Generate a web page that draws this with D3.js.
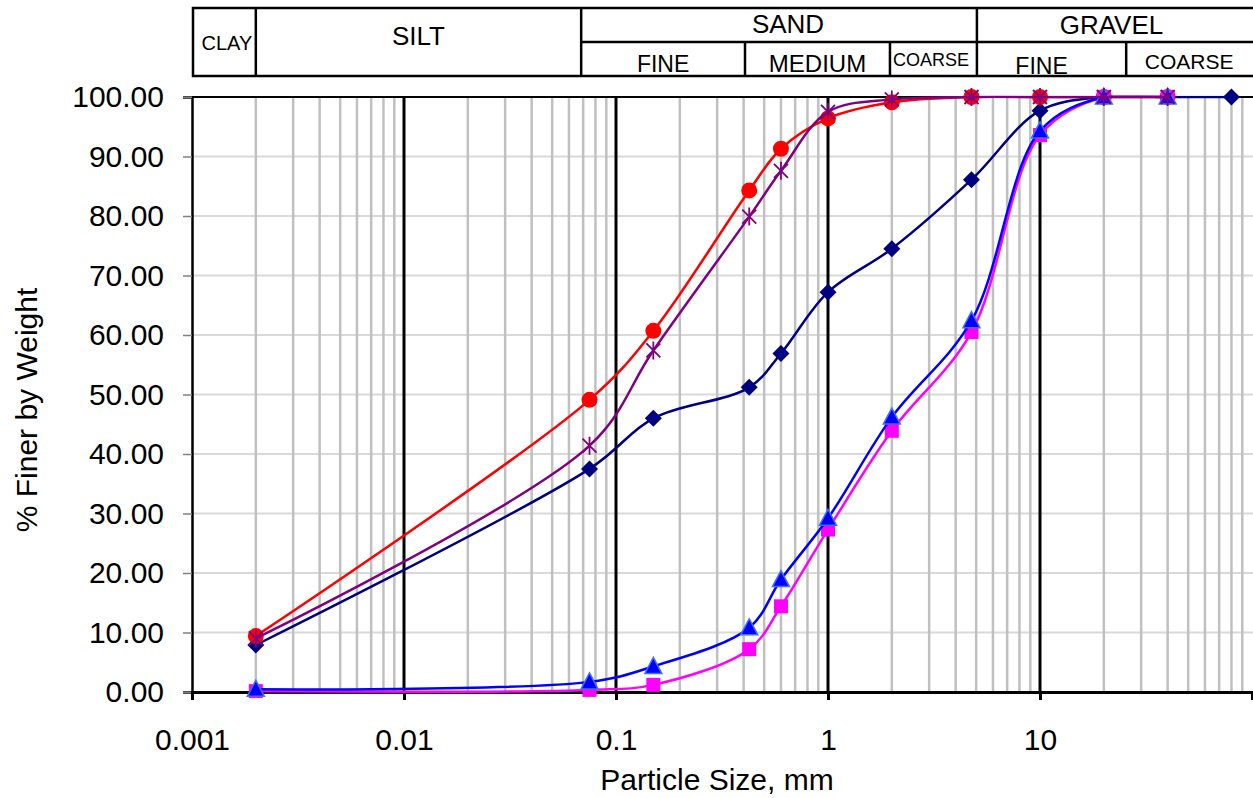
<!DOCTYPE html>
<html>
<head>
<meta charset="utf-8">
<script src="https://cdn.jsdelivr.net/npm/d3@7"></script>
<style>
  html, body { margin: 0; padding: 0; background: #fff; }
  svg { display: block; font-family: "Liberation Sans", Arial, sans-serif; }
</style>
</head>
<body>
<svg id="chart" width="1253" height="798"></svg>
<script>
// ---------------- data ----------------
const sieveSizes = [0.002, 0.075, 0.15, 0.425, 0.6, 1.0, 2.0, 4.75, 10, 20, 40, 80];
const sampleNavy    = [7.9, 37.5, 46.0, 51.2, 56.9, 67.2, 74.5, 86.1, 97.7, 100, 100, 100];
const sampleRed     = [9.4, 49.1, 60.7, 84.3, 91.3, 96.4, 99.1, 100, 100, 100, 100];
const samplePurple  = [9.0, 41.4, 57.4, 79.9, 87.6, 97.5, 99.6, 100, 100, 100, 100];
const sampleBlue    = [0.45, 1.7, 4.3, 10.8, 18.9, 29.2, 46.2, 62.4, 94.3, 100, 100];
const sampleMagenta = [0.15, 0.35, 1.2, 7.2, 14.4, 27.3, 43.9, 60.5, 93.6, 100, 100];

const xTickValues = [0.001, 0.01, 0.1, 1, 10];
const xTickLabels = ["0.001", "0.01", "0.1", "1", "10"];
const yTickValues = [0, 10, 20, 30, 40, 50, 60, 70, 80, 90, 100];

// soil classification header: boundaries in mm
const mainClasses = [
  { name: "CLAY",   from: 0.001,  to: 0.002 },
  { name: "SILT",   from: 0.002,  to: 0.0685 },
  { name: "SAND",   from: 0.0685, to: 5.04 },
  { name: "GRAVEL", from: 5.04,   to: 100 }
];
const subClasses = [
  { name: "FINE",   from: 0.0685, to: 0.406 },
  { name: "MEDIUM", from: 0.406,  to: 1.96 },
  { name: "COARSE", from: 1.96,   to: 5.04 },
  { name: "FINE",   from: 5.04,   to: 25.5 },
  { name: "COARSE", from: 25.5,   to: 100 }
];

// ---------------- layout ----------------
const svg = d3.select("#chart");
const pLeft = 192, pRight = 1252, pTop = 97, pBottom = 692;
const x = d3.scaleLog().domain([0.001, 100]).range([pLeft, pRight]);
const y = d3.scaleLinear().domain([0, 100]).range([pBottom, pTop]);

svg.append("defs").append("clipPath").attr("id", "plotClip")
  .append("rect").attr("x", pLeft).attr("y", pTop - 1.3).attr("width", 1253 - pLeft).attr("height", pBottom - pTop + 10);

// horizontal gridlines
svg.append("g").selectAll("line")
  .data(yTickValues.filter(v => v > 0 && v < 100))
  .join("line")
  .attr("x1", pLeft).attr("x2", 1253)
  .attr("y1", d => y(d)).attr("y2", d => y(d))
  .attr("stroke", "#d9d9d9").attr("stroke-width", 2);

// minor vertical gridlines
const minor = [];
[0.001, 0.01, 0.1, 1, 10].forEach(d => { for (let k = 2; k <= 9; k++) minor.push(k * d); });
svg.append("g").selectAll("line")
  .data(minor)
  .join("line")
  .attr("x1", d => x(d)).attr("x2", d => x(d))
  .attr("y1", pTop).attr("y2", pBottom)
  .attr("stroke", "#c0c0c0").attr("stroke-width", 2.5);

// major vertical gridlines
svg.append("g").selectAll("line")
  .data([0.01, 0.1, 1, 10])
  .join("line")
  .attr("x1", d => x(d)).attr("x2", d => x(d))
  .attr("y1", pTop).attr("y2", pBottom)
  .attr("stroke", "#000").attr("stroke-width", 3);

// top border
svg.append("line").attr("x1", pLeft).attr("x2", 1253).attr("y1", pTop).attr("y2", pTop)
  .attr("stroke", "#000").attr("stroke-width", 2);

// y axis
const yAxis = svg.append("g").attr("transform", `translate(${pLeft},0)`)
  .call(d3.axisLeft(y).tickValues(yTickValues).tickFormat(d3.format(".2f")).tickSize(9).tickPadding(19));
yAxis.select(".domain").attr("stroke", "#000").attr("stroke-width", 2.5);
yAxis.selectAll(".tick line").attr("stroke", "#808080").attr("stroke-width", 1.5);
yAxis.selectAll(".tick text").attr("font-size", 30).attr("fill", "#000")
  .attr("font-family", "'Liberation Sans', Arial, sans-serif");

// x axis
const xAxis = svg.append("g").attr("transform", `translate(0,${pBottom})`)
  .call(d3.axisBottom(x).tickValues(xTickValues).tickFormat((d, i) => xTickLabels[i]).tickSize(8).tickPadding(29));
xAxis.select(".domain").attr("stroke", "#000").attr("stroke-width", 3);
xAxis.selectAll(".tick line").attr("stroke", "#000").attr("stroke-width", 3);
xAxis.selectAll(".tick").filter(d => d === 0.001).select("line").remove();
xAxis.selectAll(".tick text").attr("font-size", 30).attr("fill", "#000")
  .attr("font-family", "'Liberation Sans', Arial, sans-serif");

// axis titles
svg.append("text").attr("x", 717).attr("y", 790).attr("text-anchor", "middle")
  .attr("font-size", 30).text("Particle Size, mm");
svg.append("text").attr("transform", "translate(37,410) rotate(-90)").attr("text-anchor", "middle")
  .attr("font-size", 30).text("% Finer by Weight");

// ---------------- series ----------------
const line = d3.line().x(d => x(d[0])).y(d => y(d[1])).curve(d3.curveCatmullRom.alpha(0.5));

const shapes = {
  diamond: "M0,-8.5L8.5,0L0,8.5L-8.5,0Z",
  triangle: "M0,-9L8.5,7L-8.5,7Z",
  square: "M-7,-7H7V7H-7Z",
  star: "M-7,-7L7,7M-7,7L7,-7M0,-9V9"
};

const seriesList = [
  { values: sampleNavy,    color: "#000080", marker: "diamond" },
  { values: sampleRed,     color: "#ff0000", marker: "circle" },
  { values: sampleMagenta, color: "#ff00ff", marker: "square" },
  { values: sampleBlue,    color: "#0000ff", marker: "triangle", stroke: "#3f6fff" },
  { values: samplePurple,  color: "#800080", marker: "star" }
];

seriesList.forEach(s => {
  const pts = s.values.map((v, i) => [sieveSizes[i], v]);
  const g = svg.append("g");
  g.append("path").datum(pts).attr("d", line).attr("clip-path", "url(#plotClip)")
    .attr("fill", "none").attr("stroke", s.color).attr("stroke-width", 2.5);
  const m = g.selectAll(".m").data(pts).join("g")
    .attr("transform", d => `translate(${x(d[0])},${y(d[1])})`);
  if (s.marker === "circle") {
    m.append("circle").attr("r", 8).attr("fill", s.color);
  } else if (s.marker === "star") {
    m.append("path").attr("d", shapes.star).attr("fill", "none")
      .attr("stroke", s.color).attr("stroke-width", 1.8);
  } else {
    m.append("path").attr("d", shapes[s.marker]).attr("fill", s.color)
      .attr("stroke", s.stroke || s.color).attr("stroke-width", s.stroke ? 1.5 : 0);
  }
});

// ---------------- classification header ----------------
const hTop = 8, hMid = 42, hBot = 76, hLeft = 193, hRight = 1256;
const hg = svg.append("g").attr("stroke", "#000").attr("stroke-width", 2.5);
hg.append("rect").attr("x", hLeft).attr("y", hTop).attr("width", hRight - hLeft).attr("height", hBot - hTop)
  .attr("fill", "none");
hg.append("line").attr("x1", x(0.0685)).attr("x2", hRight).attr("y1", hMid).attr("y2", hMid);
hg.selectAll(".full").data([0.002, 0.0685, 5.04]).join("line")
  .attr("x1", d => x(d)).attr("x2", d => x(d)).attr("y1", hTop).attr("y2", hBot);
hg.selectAll(".half").data([0.406, 1.96, 25.5]).join("line")
  .attr("x1", d => x(d)).attr("x2", d => x(d)).attr("y1", hMid).attr("y2", hBot);

const mainStyle = { CLAY: [20, 50, 3], SILT: [26, 45, 0], SAND: [26, 33, 9], GRAVEL: [26, 34, -3] };
svg.append("g").selectAll("text").data(mainClasses).join("text")
  .attr("x", d => (x(d.from) + Math.min(x(d.to), 1253)) / 2 + mainStyle[d.name][2])
  .attr("y", d => mainStyle[d.name][1])
  .attr("text-anchor", "middle")
  .attr("font-size", d => mainStyle[d.name][0])
  .text(d => d.name);

const subStyle = [[23, 72, 0], [24, 72, 0], [18, 66, 0], [23, 74, -10], [21, 69, 0]];
svg.append("g").selectAll("text").data(subClasses).join("text")
  .attr("x", (d, i) => i === 2 ? x(d.from) + 3 : (x(d.from) + Math.min(x(d.to), 1253)) / 2 + subStyle[i][2])
  .attr("y", (d, i) => subStyle[i][1])
  .attr("text-anchor", (d, i) => i === 2 ? "start" : "middle")
  .attr("font-size", (d, i) => subStyle[i][0])
  .text(d => d.name);
</script>
</body>
</html>
